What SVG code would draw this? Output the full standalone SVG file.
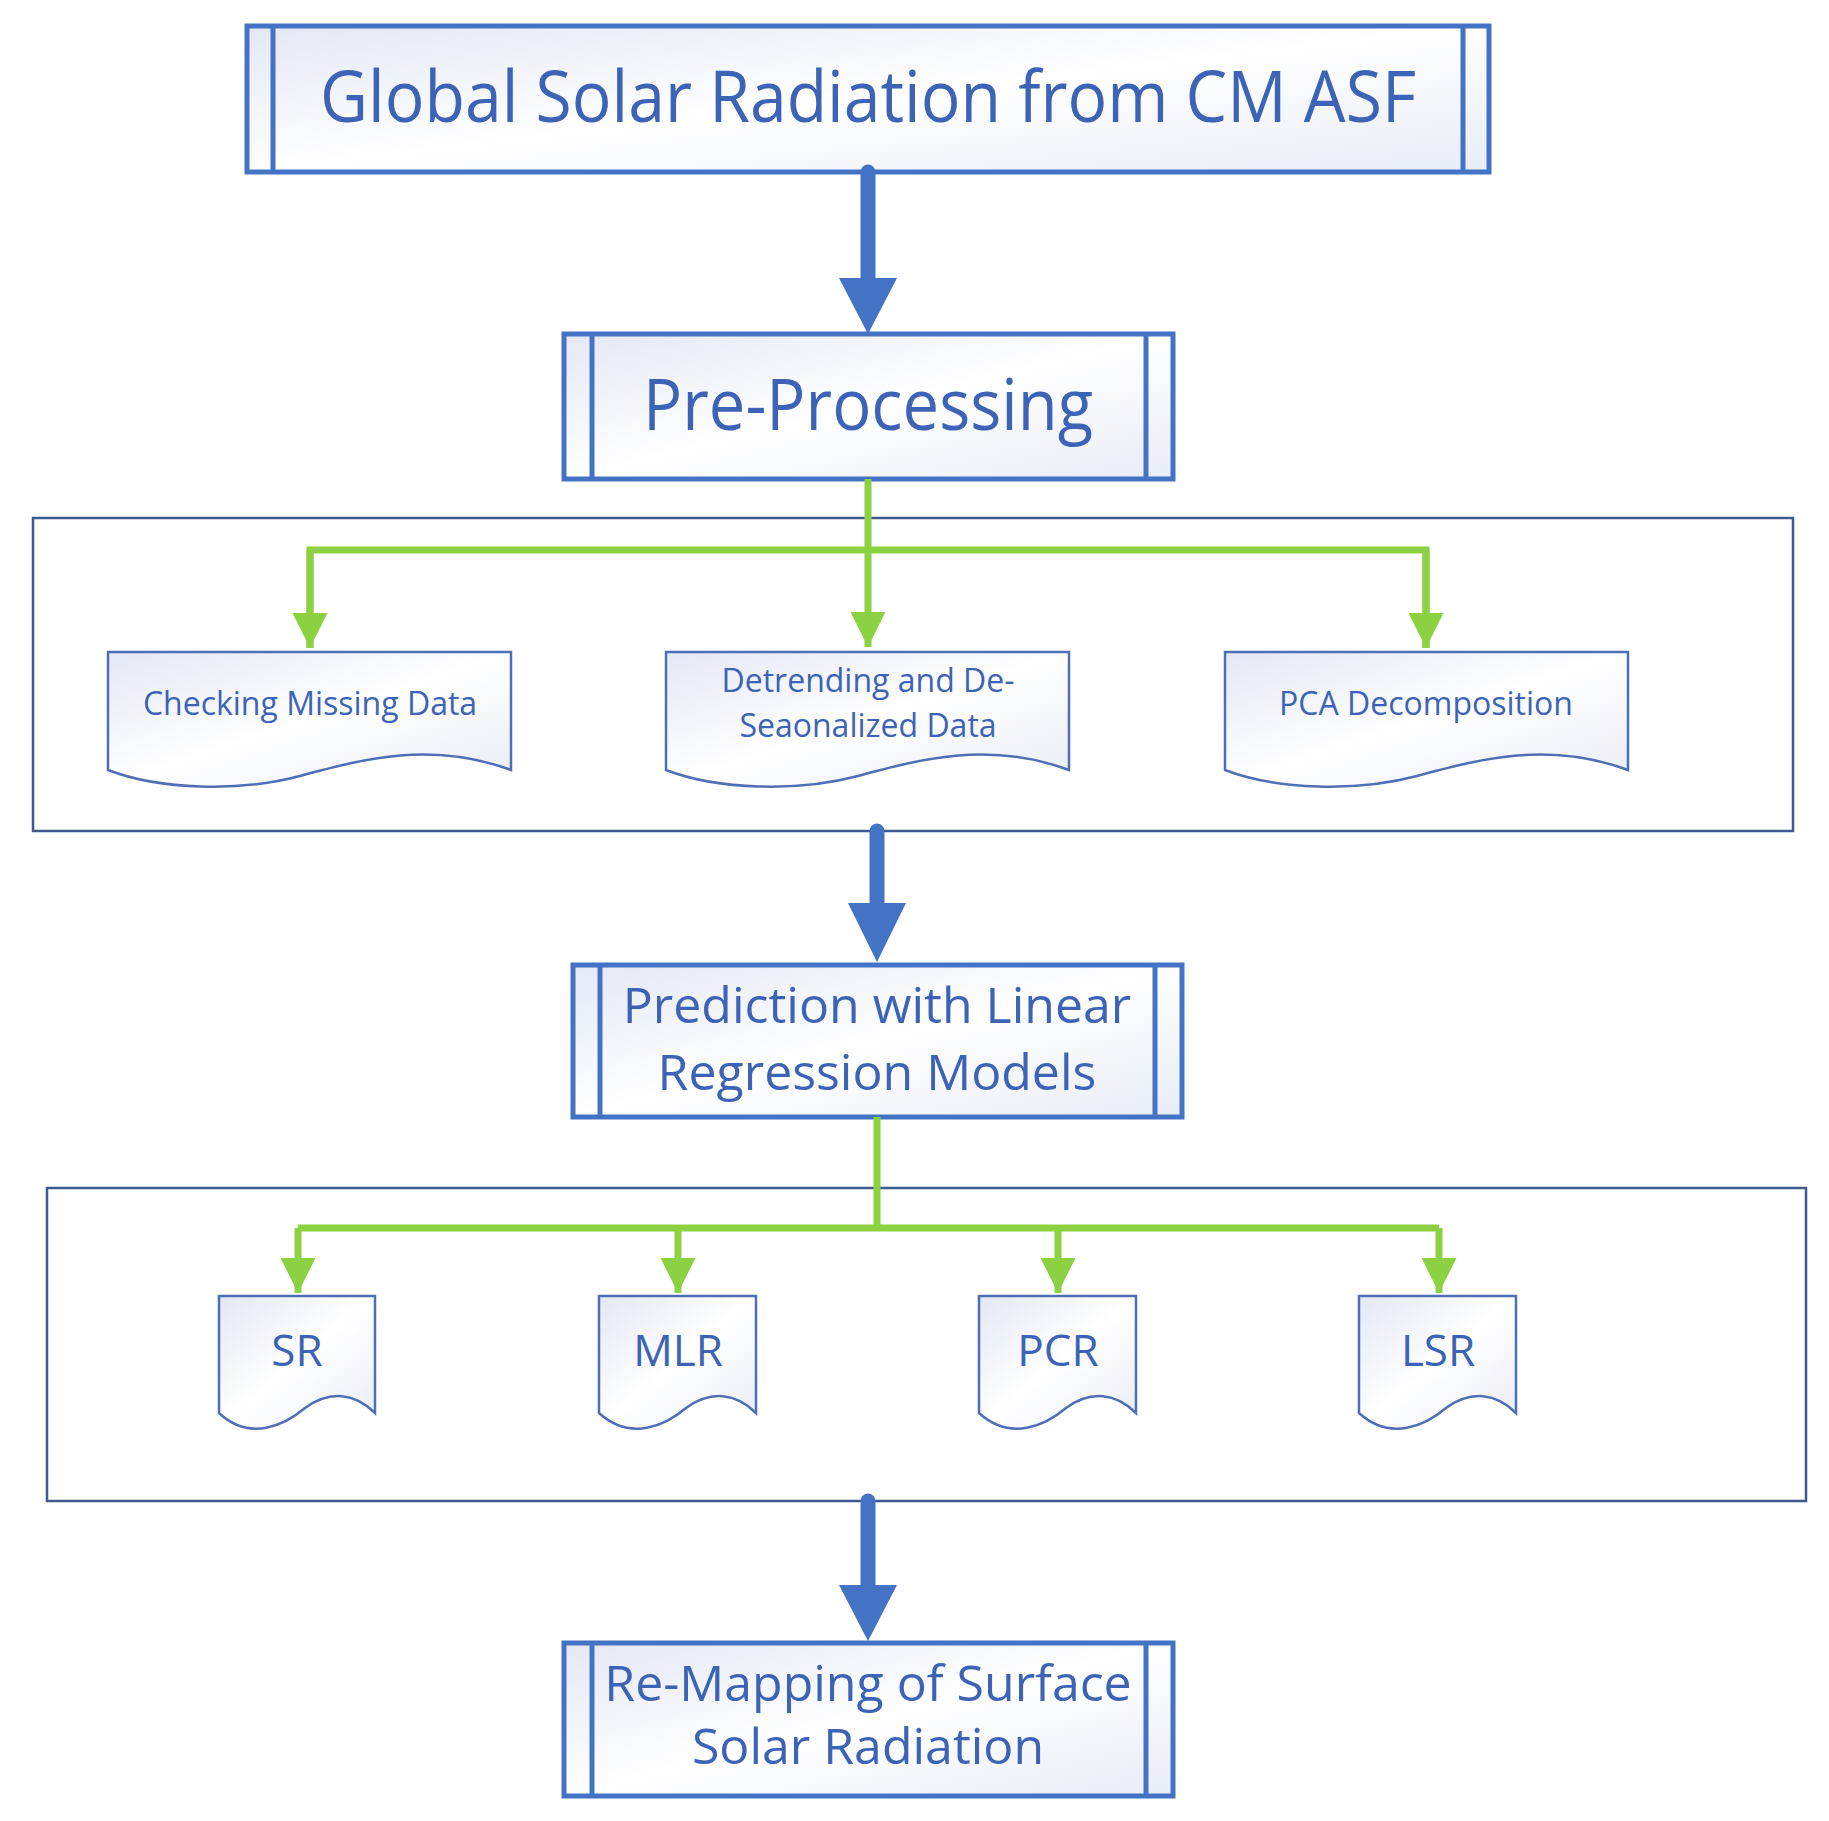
<svg xmlns="http://www.w3.org/2000/svg" width="1829" height="1821" viewBox="0 0 1829 1821">
<defs>
<linearGradient id="bg" x1="0" y1="0" x2="1" y2="1"><stop offset="0" stop-color="#E4E8F5"/><stop offset="0.5" stop-color="#FFFFFF"/><stop offset="1" stop-color="#E8ECF6"/></linearGradient>
<marker id="gh" viewBox="0 0 10 10" refX="10" refY="5" markerWidth="5" markerHeight="5" markerUnits="strokeWidth" orient="auto"><path d="M0,0 L10,5 L0,10 z" fill="#8CD141"/></marker>
</defs>
<style>
.box{fill:url(#bg);stroke:#4472C4;stroke-width:5}
.inner{stroke:#4472C4;stroke-width:5}
.grp{fill:#fff;stroke:#3F5A8F;stroke-width:2.5}
.doc{fill:url(#bg);stroke:#4F6FB5;stroke-width:2.5}
.t{font-family:"Open Sans","Noto Sans",sans-serif;fill:#3C63B5;text-anchor:middle}
.g{stroke:#8CD141;stroke-width:7;fill:none}
.b{stroke:#4472C4;stroke-width:15;stroke-linecap:round;fill:none}
.bh{fill:#4472C4}
</style>
<rect class="grp" x="33" y="518" width="1760" height="313"/>
<rect class="grp" x="47" y="1188" width="1759" height="313"/>
<g id="n1"><rect class="box" x="247" y="26" width="1242" height="146"/><line class="inner" x1="273" y1="26" x2="273" y2="172"/><line class="inner" x1="1463" y1="26" x2="1463" y2="172"/>
<text class="t" x="868" y="122" font-size="72" textLength="1096" lengthAdjust="spacingAndGlyphs">Global Solar Radiation from CM ASF</text></g>
<g id="n2"><rect class="box" x="564" y="334" width="609" height="145"/><line class="inner" x1="592" y1="334" x2="592" y2="479"/><line class="inner" x1="1146" y1="334" x2="1146" y2="479"/>
<text class="t" x="868" y="430" font-size="72" textLength="450" lengthAdjust="spacingAndGlyphs">Pre-Processing</text></g>
<g id="d1"><path class="doc" d="M108,652 H511 V770 C430,740 360,760 300,776 C240,792 160,790 108,770 Z"/><text class="t" x="310" y="715" font-size="32">Checking Missing Data</text></g>
<g id="d2"><path class="doc" d="M666,652 H1069 V770 C988,740 918,760 858,776 C798,792 718,790 666,770 Z"/><text class="t" x="868" y="692" font-size="32">Detrending and De-</text><text class="t" x="868" y="737" font-size="32">Seaonalized Data</text></g>
<g id="d3"><path class="doc" d="M1225,652 H1628 V770 C1547,740 1477,760 1417,776 C1357,792 1277,790 1225,770 Z"/><text class="t" x="1426" y="715" font-size="32">PCA Decomposition</text></g>
<g id="n3"><rect class="box" x="573" y="965" width="609" height="152"/><line class="inner" x1="600" y1="965" x2="600" y2="1117"/><line class="inner" x1="1155" y1="965" x2="1155" y2="1117"/>
<text class="t" x="877" y="1023" font-size="50">Prediction with Linear</text><text class="t" x="877" y="1090" font-size="50">Regression Models</text></g>
<g id="m1"><path class="doc" d="M219,1296 H375 V1413 C355,1393 330,1390 305,1408 C285,1425 250,1442 219,1413 Z"/><text class="t" x="297" y="1366" font-size="44">SR</text></g>
<g id="m2"><path class="doc" d="M599,1296 H756 V1413 C736,1393 711,1390 686,1408 C666,1425 631,1442 599,1413 Z"/><text class="t" x="678" y="1366" font-size="44">MLR</text></g>
<g id="m3"><path class="doc" d="M979,1296 H1136 V1413 C1116,1393 1091,1390 1066,1408 C1046,1425 1011,1442 979,1413 Z"/><text class="t" x="1058" y="1366" font-size="44">PCR</text></g>
<g id="m4"><path class="doc" d="M1359,1296 H1516 V1413 C1496,1393 1471,1390 1446,1408 C1426,1425 1391,1442 1359,1413 Z"/><text class="t" x="1438" y="1366" font-size="44">LSR</text></g>
<g id="n4"><rect class="box" x="564" y="1643" width="609" height="153"/><line class="inner" x1="592" y1="1643" x2="592" y2="1796"/><line class="inner" x1="1146" y1="1643" x2="1146" y2="1796"/>
<text class="t" x="868" y="1701" font-size="50">Re-Mapping of Surface</text><text class="t" x="868" y="1764" font-size="50">Solar Radiation</text></g>
<g id="connectors">
<line class="b" x1="868" y1="172" x2="868" y2="280"/><path class="bh" d="M839,278 H897 L868,334 Z"/>
<line class="b" x1="877" y1="831" x2="877" y2="905"/><path class="bh" d="M848,903 H906 L877,962 Z"/>
<line class="b" x1="868" y1="1501" x2="868" y2="1587"/><path class="bh" d="M839,1585 H897 L868,1641 Z"/>
<path class="g" d="M868,479 V647" marker-end="url(#gh)"/>
<path class="g" d="M310,648 V550 H1426 V648" />
<path class="g" d="M310,550 V648" marker-end="url(#gh)"/><path class="g" d="M1426,550 V648" marker-end="url(#gh)"/>
<path class="g" d="M877,1117 V1228 M298,1228 H1439"/>
<path class="g" d="M298,1228 V1293" marker-end="url(#gh)"/><path class="g" d="M678,1228 V1293" marker-end="url(#gh)"/>
<path class="g" d="M1058,1228 V1293" marker-end="url(#gh)"/><path class="g" d="M1439,1228 V1293" marker-end="url(#gh)"/>
</g>
</svg>
